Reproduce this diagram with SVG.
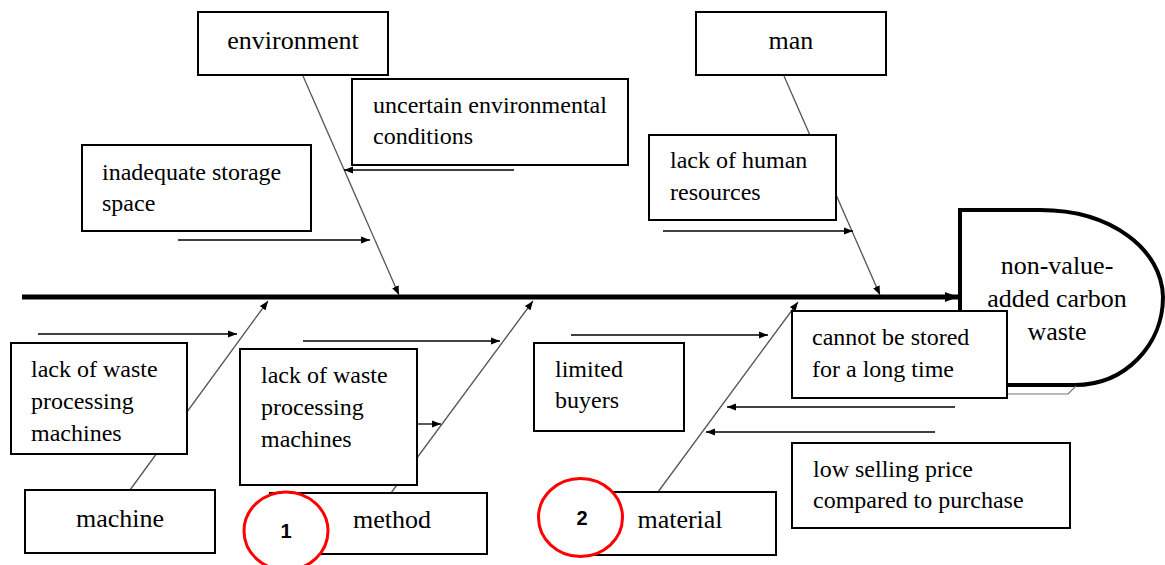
<svg xmlns="http://www.w3.org/2000/svg" width="1165" height="565" viewBox="0 0 1165 565">
<defs>
<marker id="ah" markerUnits="userSpaceOnUse" markerWidth="10" markerHeight="8" refX="9" refY="4" orient="auto"><path d="M0,0.5 L9,4 L0,7.5 z" fill="#000"/></marker>
<marker id="ahs" markerUnits="userSpaceOnUse" markerWidth="14" markerHeight="12" refX="13" refY="6" orient="auto"><path d="M0,1 L13,6 L0,11 z" fill="#000"/></marker>
<style>
.box{fill:#fff;stroke:#000;stroke-width:2}
.bone{stroke:#555;stroke-width:1.3;fill:none}
.arr{stroke:#000;stroke-width:1.3;fill:none}
.cat{font-size:26px;fill:#000;text-anchor:middle}
.txt{font-size:24px;fill:#000}
.head{font-size:26px;fill:#000;text-anchor:middle}
.circ{fill:#fff;stroke:#f00;stroke-width:3}
.num{font-size:20px;font-weight:bold;fill:#000;text-anchor:middle}
</style>
</defs>
<rect width="1165" height="565" fill="#fff"/>
<g id="connectors">
<line x1="22" y1="297" x2="958" y2="297" stroke="#000" stroke-width="5" marker-end="url(#ahs)"/>
<line class="bone" x1="303" y1="76" x2="399" y2="295" marker-end="url(#ah)"/>
<line class="bone" x1="784" y1="76" x2="880" y2="295" marker-end="url(#ah)"/>
<line class="bone" x1="130" y1="490" x2="268" y2="301" marker-end="url(#ah)"/>
<line class="bone" x1="391" y1="493" x2="533" y2="301" marker-end="url(#ah)"/>
<line class="bone" x1="658" y1="492" x2="798" y2="302" marker-end="url(#ah)"/>
<line class="arr" x1="514" y1="170" x2="344" y2="170" marker-end="url(#ah)"/>
<line class="arr" x1="178" y1="240" x2="370" y2="240" marker-end="url(#ah)"/>
<line class="arr" x1="663" y1="231" x2="853" y2="231" marker-end="url(#ah)"/>
<line class="arr" x1="38" y1="334" x2="237" y2="334" marker-end="url(#ah)"/>
<line class="arr" x1="303" y1="341" x2="500" y2="341" marker-end="url(#ah)"/>
<line class="arr" x1="417" y1="424" x2="441" y2="424" marker-end="url(#ah)"/>
<line class="arr" x1="571" y1="335" x2="768" y2="335" marker-end="url(#ah)"/>
<line class="arr" x1="955" y1="407" x2="727" y2="407" marker-end="url(#ah)"/>
<line class="arr" x1="935" y1="432" x2="706" y2="432" marker-end="url(#ah)"/>
</g>
<g font-family="'Liberation Serif', 'DejaVu Serif', 'Times New Roman', serif">
<g id="head">
<path d="M960,210 H1040 C1112,210 1162,250 1163,297 C1163,345 1125,385 1075,385 H960 Z" fill="#fff" stroke="#000" stroke-width="4"/>
<path d="M1005,394 H1068 L1076,386" fill="none" stroke="#777" stroke-width="1.2"/>
<text class="head" x="1057" y="274">non-value-</text>
<text class="head" x="1057" y="307">added carbon</text>
<text class="head" x="1057" y="340">waste</text>
</g>
<g id="environment"><rect class="box" x="198" y="12" width="190" height="63"/><text class="cat" x="293" y="49">environment</text></g>
<g id="man"><rect class="box" x="696" y="12" width="190" height="63"/><text class="cat" x="791" y="49">man</text></g>
<g id="uncertain"><rect class="box" x="352" y="79" width="276" height="86"/><text class="txt" x="373" y="113">uncertain environmental</text><text class="txt" x="373" y="144">conditions</text></g>
<g id="storage"><rect class="box" x="82" y="145" width="229" height="86"/><text class="txt" x="102" y="180">inadequate storage</text><text class="txt" x="102" y="211">space</text></g>
<g id="human"><rect class="box" x="649" y="135" width="187" height="85"/><text class="txt" x="670" y="168">lack of human</text><text class="txt" x="670" y="200">resources</text></g>
<g id="waste1"><rect class="box" x="11" y="343" width="176" height="111"/><text class="txt" x="31" y="377">lack of waste</text><text class="txt" x="31" y="409">processing</text><text class="txt" x="31" y="441">machines</text></g>
<g id="waste2"><rect class="box" x="240" y="349" width="177" height="136"/><text class="txt" x="261" y="383">lack of waste</text><text class="txt" x="261" y="415">processing</text><text class="txt" x="261" y="447">machines</text></g>
<g id="buyers"><rect class="box" x="534" y="343" width="150" height="88"/><text class="txt" x="555" y="377">limited</text><text class="txt" x="555" y="408">buyers</text></g>
<g id="stored"><rect class="box" x="792" y="311" width="215" height="87"/><text class="txt" x="812" y="345">cannot be stored</text><text class="txt" x="812" y="377">for a long time</text></g>
<g id="price"><rect class="box" x="792" y="443" width="278" height="85"/><text class="txt" x="813" y="477">low selling price</text><text class="txt" x="813" y="508">compared to purchase</text></g>
<g id="machine"><rect class="box" x="25" y="490" width="190" height="63"/><text class="cat" x="120" y="527">machine</text></g>
<g id="method"><rect class="box" x="270" y="493" width="217" height="61"/><text class="cat" x="392" y="528">method</text></g>
<g id="material"><rect class="box" x="590" y="492" width="186" height="63"/><text class="cat" x="680" y="528">material</text></g>
</g>
<g font-family="'Liberation Sans', 'Open Sans', Arial, sans-serif">
<g id="mark1"><ellipse class="circ" cx="286" cy="531" rx="42" ry="39"/><text class="num" x="286" y="538">1</text></g>
<g id="mark2"><ellipse class="circ" cx="580.5" cy="517.5" rx="42" ry="39"/><text class="num" x="582" y="525">2</text></g>
</g>
</svg>
